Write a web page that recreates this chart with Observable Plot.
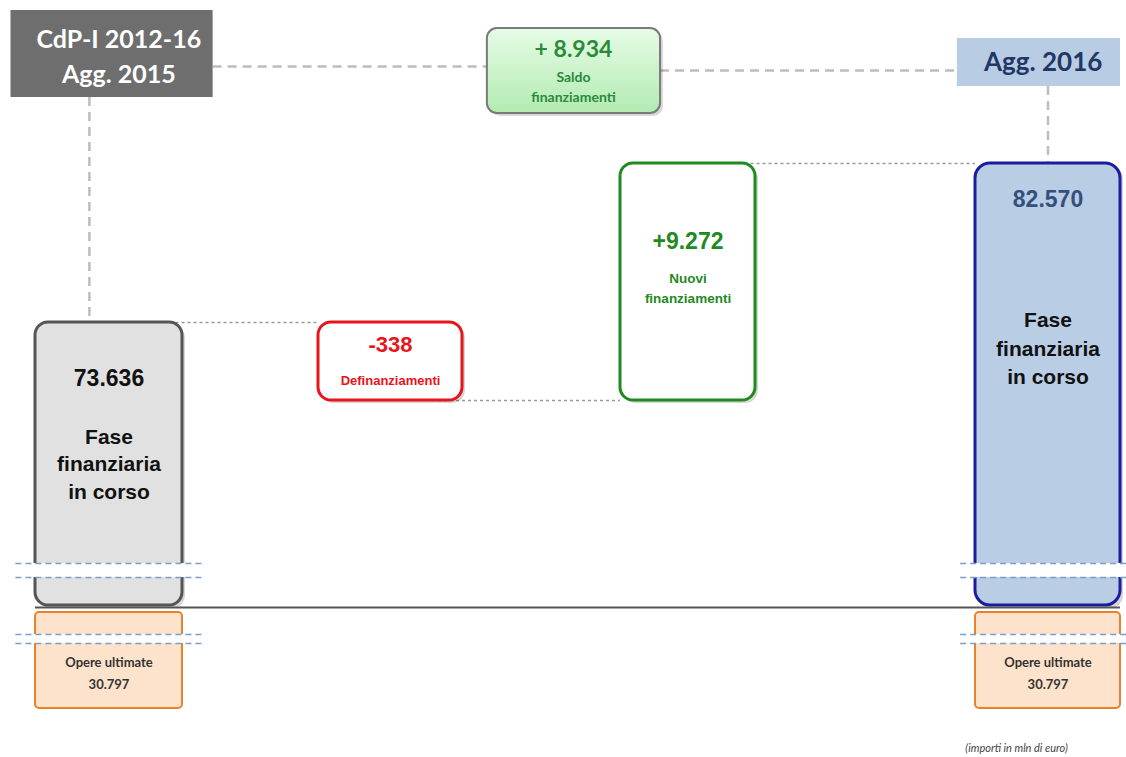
<!DOCTYPE html>
<html><head><meta charset="utf-8">
<script src="https://cdn.jsdelivr.net/npm/d3@7"></script>
<script src="https://cdn.jsdelivr.net/npm/@observablehq/plot@0.6"></script>
<style>body{margin:0;background:#fff}#chart{width:1126px;height:757px}</style>
</head><body><div id="chart"></div>
<script>
// ---- data (mln di euro) ----
const steps = ["Agg. 2015", "Definanziamenti", "Nuovi finanziamenti", "Agg. 2016"];
const startValue = 73636;          // CdP-I 2012-16 Agg. 2015 - fase finanziaria in corso
const definanziamenti = -338;
const nuoviFinanziamenti = 9272;
const endValue = 82570;            // Agg. 2016 - fase finanziaria in corso
const saldoFinanziamenti = 8934;
const opereUltimate = [30797, 30797];
const headerLabels = ["CdP-I 2012-16\nAgg. 2015", "Saldo\nfinanziamenti", "Agg. 2016"];
const boxLabels = ["Fase\nfinanziaria\nin corso", "Definanziamenti", "Nuovi\nfinanziamenti", "Fase\nfinanziaria\nin corso"];
const footnote = "(importi in mln di euro)";

// ---- formatting ----
const loc = d3.formatLocale({decimal: ",", thousands: ".", grouping: [3], currency: ["€", ""], minus: "-"});
const fmt = loc.format(",d");
const fmtSigned = loc.format("+,d");

// ---- derived waterfall ----
const afterDef = startValue + definanziamenti;
const afterNew = afterDef + nuoviFinanziamenti;
const boxes = [
  {i: 0, y1: 0, y2: startValue},
  {i: 1, y1: afterDef, y2: startValue},
  {i: 2, y1: afterDef, y2: afterNew},
  {i: 3, y1: 0, y2: endValue}
];
const opere = [{i: 0, v: opereUltimate[0]}, {i: 3, v: opereUltimate[1]}];

// ---- layout (schematic, broken axis) ----
const HW = 0.3; // half width of a column, in step units
const xStops = [-HW, HW, 1 - HW, 1 + HW, 2 - HW, 2 + HW, 3 - HW, 3 + HW];
const xPixels = [35, 182, 318, 462, 620, 755, 975, 1120];
const topValue = 92000;
const yStops = [-opereUltimate[0], 0, afterDef, startValue, endValue, topValue];
const yPixels = [708, 605, 400, 322, 163, 0];
const hdr = [
  {x1: -0.4, x2: 0.39, y1: 86388, y2: 91421, xc: 0.04},
  {x1: 1.363, x2: 1.878, y1: 85463, y2: 90380, xc: 1.581},
  {x1: 2.667, x2: 3.3, y1: 87025, y2: 89802, xc: 2.98}
];
const breakMain = [10012, 15018];
const breakOpere = [-11362, -8672];
const breakSpan = [{i: 0, x1: -0.38, x2: 0.36}, {i: 3, x1: 2.673, x2: 3.325}];

const F_BOX = "Liberation Sans, Arial, sans-serif";
const F_HDR = "Lato, 'Open Sans', sans-serif";
const SALDO_FILL = "#c9f3c9";

const shadow = (data, rx) => Plot.rect(data, {x1: d => d.i - HW, x2: d => d.i + HW, y1: "y1", y2: "y2", rx, fill: "#000", fillOpacity: 0.16, dx: 3, dy: 3});
const box = (d, fill, stroke, rx = 13, sw = 3) => Plot.rect([d], {x1: d => d.i - HW, x2: d => d.i + HW, y1: "y1", y2: "y2", rx, fill, stroke, strokeWidth: sw});
const breakBand = ([lo, hi]) => [
  Plot.rect(breakSpan, {x1: "x1", x2: "x2", y1: lo, y2: hi, fill: "white"}),
  Plot.ruleY([lo, hi].flatMap(y => breakSpan.map(b => ({...b, y}))), {y: "y", x1: "x1", x2: "x2", stroke: "#7c9ccb", strokeWidth: 1.3, strokeDasharray: "6,4"})
];

const marks = [
  // dashed header connectors
  Plot.ruleY([{y: 88182, x1: hdr[0].x2, x2: hdr[1].x1}, {y: 87950, x1: hdr[1].x2, x2: hdr[2].x1}],
    {y: "y", x1: "x1", x2: "x2", stroke: "#bdbdbd", strokeWidth: 2.5, strokeDasharray: "9,6"}),
  Plot.ruleX([{x: -0.08, y1: hdr[0].y1, y2: startValue}, {x: 3, y1: hdr[2].y1, y2: endValue}],
    {x: "x", y1: "y1", y2: "y2", stroke: "#bdbdbd", strokeWidth: 2.5, strokeDasharray: "9,6"}),
  // dotted step connectors
  Plot.ruleY([{y: startValue, x1: 0.2, x2: 1 - HW}, {y: afterDef, x1: 1.2, x2: 2 - HW}, {y: endValue, x1: 2.2, x2: 3 - HW}],
    {y: "y", x1: "x1", x2: "x2", stroke: "#9a9a9a", strokeWidth: 1.3, strokeDasharray: "3,3"}),
  // headers
  Plot.rect([hdr[0]], {x1: "x1", x2: "x2", y1: "y1", y2: "y2", fill: "#6e6e6e"}),
  Plot.rect([hdr[1]], {x1: "x1", x2: "x2", y1: "y1", y2: "y2", rx: 10, fill: "#000", fillOpacity: 0.15, dx: 3, dy: 3}),
  Plot.rect([hdr[1]], {x1: "x1", x2: "x2", y1: "y1", y2: "y2", rx: 10, fill: SALDO_FILL, stroke: "#7a7a7a", strokeWidth: 2}),
  Plot.rect([hdr[2]], {x1: "x1", x2: "x2", y1: "y1", y2: "y2", fill: "#b8cce4"}),
  Plot.text([hdr[0]], {x: "xc", y: "y2", text: () => headerLabels[0], dy: 44, fontSize: 25, fontWeight: "bold", fill: "white", lineHeight: 1.38, fontFamily: F_HDR}),
  Plot.text([hdr[1]], {x: "xc", y: "y2", text: () => "+ " + fmt(saldoFinanziamenti), dy: 21, fontSize: 23, fontWeight: "bold", fill: "#2a8a3a", fontFamily: F_HDR}),
  Plot.text([hdr[1]], {x: "xc", y: "y2", text: () => headerLabels[1], dy: 57, fontSize: 14, fontWeight: "bold", fill: "#2a8a3a", lineHeight: 1.42, fontFamily: F_HDR}),
  Plot.text([hdr[2]], {x: "xc", y: "y2", text: () => headerLabels[2], dy: 24, fontSize: 26, fontWeight: "bold", fill: "#1f3864", fontFamily: F_HDR}),
  // shadows + boxes
  shadow(boxes, 13),
  box(boxes[0], "#e1e1e1", "#555555"),
  box(boxes[1], "white", "#e8141b"),
  box(boxes[2], "white", "#1f8a1f"),
  box(boxes[3], "#b9cde5", "#1c1ca0", 15),
  // baseline
  Plot.ruleY([0], {x1: -HW, x2: 3 + HW, stroke: "#555", strokeWidth: 2, dy: 2}),
  // opere ultimate
  Plot.rect(opere, {x1: d => d.i - HW, x2: d => d.i + HW, y1: 0, y2: d => -d.v, insetTop: 7, rx: 4, fill: "#fde3cc", stroke: "#e8822e", strokeWidth: 2}),
  // axis-break bands
  ...breakBand(breakMain),
  ...breakBand(breakOpere),
  // box texts
  Plot.text([boxes[0]], {x: "i", y: "y2", text: () => fmt(startValue), dy: 56, fontSize: 23, fontWeight: "bold", fill: "#111", fontFamily: F_BOX}),
  Plot.text([boxes[0]], {x: "i", y: "y2", text: () => boxLabels[0], dy: 140, fontSize: 21, fontWeight: "bold", fill: "#111", lineHeight: 1.33, fontFamily: F_BOX}),
  Plot.text([boxes[1]], {x: "i", y: "y2", text: () => fmt(definanziamenti), dy: 22, fontSize: 22, fontWeight: "bold", fill: "#e8141b", fontFamily: F_BOX}),
  Plot.text([boxes[1]], {x: "i", y: "y2", text: () => boxLabels[1], dy: 58, fontSize: 13, fontWeight: "bold", fill: "#e8141b", fontFamily: F_BOX}),
  Plot.text([boxes[2]], {x: "i", y: "y2", text: () => fmtSigned(nuoviFinanziamenti), dy: 78, fontSize: 23, fontWeight: "bold", fill: "#1f8a1f", fontFamily: F_BOX}),
  Plot.text([boxes[2]], {x: "i", y: "y2", text: () => boxLabels[2], dy: 123, fontSize: 13.5, fontWeight: "bold", fill: "#1f8a1f", lineHeight: 1.5, fontFamily: F_BOX}),
  Plot.text([boxes[3]], {x: "i", y: "y2", text: () => fmt(endValue), dy: 36, fontSize: 23, fontWeight: "bold", fill: "#34507c", fontFamily: F_BOX}),
  Plot.text([boxes[3]], {x: "i", y: "y2", text: () => boxLabels[3], dy: 183, fontSize: 21, fontWeight: "bold", fill: "#111", lineHeight: 1.35, fontFamily: F_BOX}),
  Plot.text(opere, {x: "i", y: 0, text: d => "Opere ultimate\n" + fmt(d.v), dy: 65, fontSize: 13, fontWeight: "bold", fill: "#333", lineHeight: 1.7, fontFamily: F_HDR}),
  Plot.text([footnote], {x: 2.87, y: -opereUltimate[0], text: d => d, dy: 40, fontSize: 11, fontStyle: "italic", fill: "#444", fontFamily: F_HDR})
];

const svg = Plot.plot({
  width: 1126, height: 757, margin: 0,
  style: {background: "white"},
  x: {type: "linear", domain: xStops, range: xPixels, axis: null},
  y: {type: "linear", domain: yStops, range: yPixels, axis: null},
  marks
});

// gradient for the "saldo" box
const s = d3.select(svg);
const g = s.insert("defs", ":first-child").append("linearGradient").attr("id", "saldoGrad").attr("x1", 0).attr("y1", 0).attr("x2", 0).attr("y2", 1);
g.append("stop").attr("offset", "0%").attr("stop-color", "#e6fce6");
g.append("stop").attr("offset", "100%").attr("stop-color", "#b2ebb2");
s.selectAll("[fill='" + SALDO_FILL + "']").attr("fill", "url(#saldoGrad)");

document.getElementById("chart").append(svg);
</script>
</body></html>
